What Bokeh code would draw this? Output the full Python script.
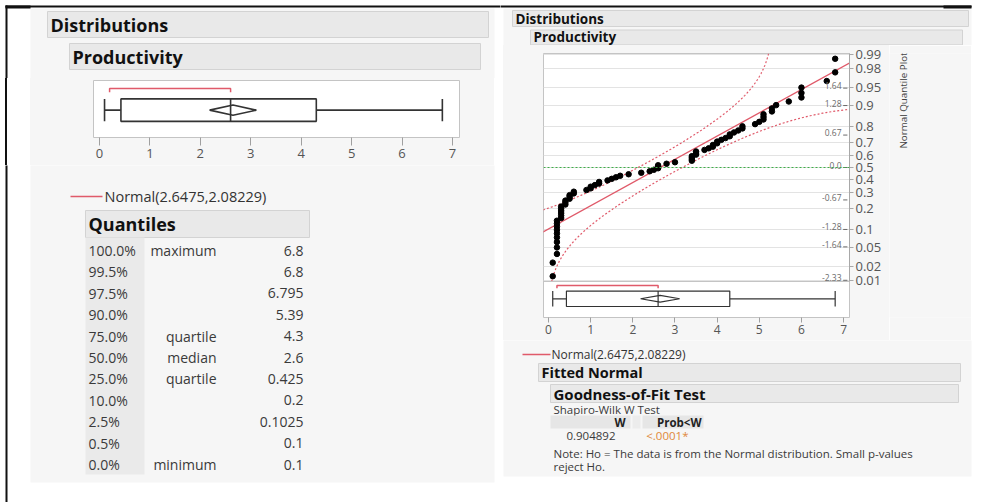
import math
from statistics import NormalDist
import numpy as np
from bokeh.plotting import figure
from bokeh.layouts import row, column
from bokeh.models import Range1d, FixedTicker, Span
from bokeh.core.properties import value
from bokeh.embed import file_html
from bokeh.resources import INLINE

# ---------------- data ----------------
productivity = [0.1, 0.1, 0.2, 0.2, 0.2, 0.2, 0.2, 0.2, 0.2, 0.2, 0.2,
                0.3, 0.3, 0.3, 0.3, 0.3, 0.3, 0.4, 0.4, 0.4, 0.5, 0.5, 0.5, 0.6, 0.6,
                0.9, 1.0, 1.0, 1.1, 1.2, 1.2, 1.4, 1.5, 1.6, 1.7, 1.9, 2.2, 2.4, 2.5,
                2.6, 2.6, 2.6, 2.8, 3.0,
                3.4, 3.4, 3.4, 3.4, 3.5, 3.5, 3.5, 3.7, 3.8, 3.9, 3.9, 4.0, 4.0, 4.1,
                4.2, 4.3, 4.3, 4.4, 4.5, 4.6, 4.6, 4.9, 5.0,
                5.1, 5.1, 5.1, 5.3, 5.3, 5.4, 5.7, 6.0, 6.0, 6.0, 6.6, 6.8, 6.8]
fit_mean = 2.6475
fit_sd = 2.08229
t_crit = 1.9905           # t(0.975, n-1) for the mean diamond
lilliefors_c = 0.886      # 95% Lilliefors constant, band = c / sqrt(n)

quant_pct = ["100.0%", "99.5%", "97.5%", "90.0%", "75.0%", "50.0%",
             "25.0%", "10.0%", "2.5%", "0.5%", "0.0%"]
quant_name = ["maximum", "", "", "", "quartile", "median", "quartile", "", "", "", "minimum"]
quant_val = [6.8, 6.8, 6.795, 5.39, 4.3, 2.6, 0.425, 0.2, 0.1025, 0.1, 0.1]

x_ticks = [0, 1, 2, 3, 4, 5, 6, 7]
prob_ticks = [0.01, 0.02, 0.05, 0.1, 0.2, 0.3, 0.4, 0.5, 0.6, 0.7, 0.8, 0.9, 0.95, 0.98, 0.99]
prob_labels = ["0.01", "0.02", "0.05", "0.1", "0.2", "0.3", "0.4", "0.5",
               "0.6", "0.7", "0.8", "0.9", "0.95", "0.98", "0.99"]
z_marks = [1.64, 1.28, 0.67, 0.0, -0.67, -1.28, -1.64, -2.33]
z_labels = ["1.64", "1.28", "0.67", "0.0", "-0.67", "-1.28", "-1.64", "-2.33"]

sw_W = "0.904892"
sw_p = "<.0001*"

# ---------------- style ----------------
FONT = "Open Sans"
PANEL = "#f6f6f6"
HEAD_FILL = "#e9e9e9"
HEAD_LINE = "#d3d3d3"
BLACK = "#111111"
TXT = "#3a3a3a"
RED = "#e05a6a"
FRAME = "#c4c4c4"
XLO, XHI = -0.119, 7.14
ZR = 2.355                      # half height of the quantile section (z units)
Q_PX, BOX_PX = 228, 36          # pixel heights of quantile / box sections
ZB = -ZR - BOX_PX * (2 * ZR) / Q_PX

nd = NormalDist()
n = len(productivity)
xs_sorted = sorted(productivity)
zs_pts = [nd.inv_cdf((i + 1) / (n + 1)) for i in range(n)]
D = lilliefors_c / math.sqrt(n)
ci = t_crit * fit_sd / math.sqrt(n)
half = int(math.ceil(n / 2))
widths = [xs_sorted[i + half - 1] - xs_sorted[i] for i in range(n - half + 1)]
i0 = int(np.argmin(widths))
short_lo, short_hi = xs_sorted[i0], xs_sorted[i0 + half - 1]


def tile(x0, y0, w, h, bg="white", top_border=0, bottom_border=0):
    p = figure(width=w, height=h, x_range=Range1d(x0, x0 + w),
               y_range=Range1d(y0 + h - bottom_border, y0 + top_border),
               x_axis_type=None, y_axis_type=None, toolbar_location=None, title=None,
               output_backend="svg", min_border=0, min_border_top=top_border,
               min_border_bottom=bottom_border)
    p.outline_line_color = None
    p.background_fill_color = bg
    p.border_fill_color = bg
    return p


def solid(w, h, color, top=0, bottom=0):
    p = figure(width=w, height=h, x_range=Range1d(0, 1), y_range=Range1d(0, 1),
               x_axis_type=None, y_axis_type=None, toolbar_location=None, title=None,
               output_backend="svg", min_border=0, min_border_top=top, min_border_bottom=bottom,
               styles={"background-color": color})
    p.outline_line_color = None
    p.background_fill_color = color
    p.border_fill_color = color
    return p


def rect(p, l, r, t, b, fill, line=None, lw=1):
    p.quad(left=[l], right=[r], top=[t], bottom=[b], fill_color=fill,
           line_color=line, line_width=lw)


def txt(p, x, y, s, size, bold=False, color=TXT, align="left", angle=0.0):
    p.text(x=[x], y=[y], text=[s], text_font=value(FONT), text_font_size=f"{size}px",
           text_font_style="bold" if bold else "normal", text_color=color,
           text_align=align, text_baseline="middle", angle=angle)


def header(p, l, r, t, b, s, size):
    rect(p, l, r, t, b, HEAD_FILL, HEAD_LINE)
    txt(p, l + 3, (t + b) / 2, s, size, bold=True, color="#111111")


def draw_box(p, yc, hb, hd, yb, tk, lw, yname="default"):
    q_max, q3, med, q1, q_min = quant_val[0], quant_val[4], quant_val[5], quant_val[6], quant_val[10]
    col = "#333333"
    kw = dict(y_range_name=yname)
    p.segment(x0=[q_min, q3], x1=[q1, q_max], y0=[yc, yc], y1=[yc, yc], line_color=col,
              line_width=lw, **kw)
    p.segment(x0=[q_min, q_max], x1=[q_min, q_max], y0=[yc - hb] * 2, y1=[yc + hb] * 2,
              line_color=col, line_width=lw, **kw)
    p.quad(left=[q1], right=[q3], bottom=[yc - hb], top=[yc + hb], fill_color="white",
           line_color=col, line_width=lw, **kw)
    p.segment(x0=[med], x1=[med], y0=[yc - hb], y1=[yc + hb], line_color=col, line_width=lw, **kw)
    p.patch(x=[fit_mean - ci, fit_mean, fit_mean + ci, fit_mean, fit_mean - ci],
            y=[yc, yc + hd, yc, yc - hd, yc], fill_color=None, line_color=col, line_width=lw, **kw)
    p.line(x=[short_lo, short_lo, short_hi, short_hi], y=[yb - tk, yb, yb, yb - tk],
           line_color=RED, line_width=1.5, **kw)


def style_xaxis(ax, out, size, standoff):
    ax.ticker = FixedTicker(ticks=x_ticks)
    ax.axis_line_color = None
    ax.major_tick_out = out
    ax.major_tick_in = 0
    ax.minor_tick_line_color = None
    ax.major_tick_line_color = "#a0a0a0"
    ax.major_label_text_font = FONT
    ax.major_label_text_font_size = f"{size}px"
    ax.major_label_text_color = "#555555"
    ax.major_label_standoff = standoff


normal_label = f"Normal({fit_mean},{fit_sd})"

# ================= LEFT COLUMN =================
A = tile(0, 0, 500, 78)
rect(A, 30, 494, 8, 80, PANEL)
rect(A, 5, 7, 5, 80, BLACK)
rect(A, 5, 500, 5, 7, BLACK)
rect(A, 5, 30, 5, 8, BLACK)
header(A, 47, 488, 11, 37, "Distributions", 18)
header(A, 69, 480, 43, 69, "Productivity", 18)

BT, BB = 2, 28
B_plot = figure(width=401, height=87, x_range=Range1d(XLO, XHI), y_range=Range1d(0, 1),
                y_axis_type=None, toolbar_location=None, title=None, output_backend="svg",
                min_border_left=0, min_border_right=35, min_border_top=BT, min_border_bottom=BB,
                styles={"background-color": PANEL})
B_plot.background_fill_color = "white"
B_plot.border_fill_color = PANEL
B_plot.outline_line_color = FRAME
B_plot.xgrid.visible = False
style_xaxis(B_plot.xaxis[0], 8, 13, 3)
draw_box(B_plot, 0.48, 0.197, 0.09, 0.86, 0.065, 1.6)

B_row = row(solid(5, 87, "white", BT, BB), solid(2, 87, BLACK, BT, BB),
            solid(23, 87, "white", BT, BB), solid(63, 87, PANEL, BT, BB), B_plot,
            solid(6, 87, "white", BT, BB))

C = tile(0, 165, 500, 337)
rect(C, 30, 494, 163, 482, PANEL)
rect(C, 5, 7, 163, 504, BLACK)
C.line(x=[70, 102], y=[196, 196], line_color=RED, line_width=1.5)
txt(C, 104, 196, normal_label, 14.5, color="#333333")
header(C, 85, 309, 210, 237, "Quantiles", 18)
rect(C, 85, 144, 237, 474, "#eaeaea")
row_y = [250 + 21.4 * i for i in range(len(quant_pct))]
C.text(x=[88] * len(row_y), y=row_y, text=quant_pct, text_font=value(FONT),
       text_font_size="14px", text_color=TXT, text_baseline="middle", text_align="left")
C.text(x=[216] * len(row_y), y=row_y, text=quant_name, text_font=value(FONT),
       text_font_size="14px", text_color=TXT, text_baseline="middle", text_align="right")
C.text(x=[303] * len(row_y), y=row_y, text=[f"{v:g}" for v in quant_val], text_font=value(FONT),
       text_font_size="14px", text_color=TXT, text_baseline="middle", text_align="right")

left = column(A, B_row, C)

# ================= RIGHT COLUMN =================
ET, EB = 8, 23
D_H = 53 - ET
Dt = tile(500, 0, 482, D_H)
rect(Dt, 503, 971, 8, D_H + 2, PANEL)
rect(Dt, 498, 971, 5, 7, BLACK)
rect(Dt, 943, 971, 5, 8, BLACK)
header(Dt, 512, 968, 10, 26, "Distributions", 13.5)
header(Dt, 530, 962, 29.5, D_H - 0.6, "Productivity", 13.5)

EH = ET + Q_PX + BOX_PX + EB
EF = figure(width=346, height=EH, x_range=Range1d(XLO, XHI),
            y_range=Range1d(ZB, ZR), y_axis_location="right", toolbar_location=None,
            title=None, output_backend="svg", min_border_left=0, min_border_right=40,
            min_border_top=ET, min_border_bottom=EB, styles={"background-color": PANEL})
EF.extra_y_ranges = {"box": Range1d(0, (Q_PX + BOX_PX) / BOX_PX)}
EF.background_fill_color = "white"
EF.border_fill_color = PANEL
EF.outline_line_color = FRAME
EF.xgrid.visible = False
style_xaxis(EF.xaxis[0], 5, 12, 2)
z_ticks = [nd.inv_cdf(pv) for pv in prob_ticks]
ticker = FixedTicker(ticks=z_ticks)
yax = EF.yaxis[0]
yax.ticker = ticker
yax.bounds = (-ZR, ZR)
yax.major_label_overrides = {zt: lab for zt, lab in zip(z_ticks, prob_labels)}
yax.axis_line_color = "#a8a8a8"
yax.major_tick_out = 4
yax.major_tick_in = 0
yax.minor_tick_line_color = None
yax.major_tick_line_color = "#a8a8a8"
yax.major_label_text_font = FONT
yax.major_label_text_font_size = "13px"
yax.major_label_text_color = "#555555"
yax.major_label_standoff = 2
EF.ygrid.ticker = ticker
EF.ygrid.grid_line_color = "#e3e3e3"
EF.add_layout(Span(location=0, dimension="width", line_color="#3fae49",
                   line_dash="2 2", line_width=1))
EF.add_layout(Span(location=-ZR, dimension="width", line_color=FRAME, line_width=1))
zgrid = np.linspace(-ZR, ZR * 1.02, 800)
up_x, lo_x = [], []
for z in zgrid:
    c = nd.cdf(z)
    up_x.append(fit_mean + fit_sd * nd.inv_cdf(c - D) if c - D > 1e-9 else np.nan)
    lo_x.append(fit_mean + fit_sd * nd.inv_cdf(c + D) if c + D < 1 - 1e-9 else np.nan)
EF.line(x=up_x, y=zgrid, line_color=RED, line_dash="2 2", line_width=1.2)
EF.line(x=lo_x, y=zgrid, line_color=RED, line_dash="2 2", line_width=1.2)
EF.line(x=[fit_mean - fit_sd * ZR, fit_mean + fit_sd * ZR * 1.1], y=[-ZR, ZR * 1.1],
        line_color=RED, line_width=1.3)
EF.scatter(x=xs_sorted, y=zs_pts, size=5.5, color="black")
EF.text(x=[XHI] * len(z_marks), y=z_marks, text=z_labels, x_offset=-8, y_offset=1,
        text_font=value(FONT), text_font_size="8.5px", text_color="#6a6a6a",
        text_align="right", text_baseline="bottom")
EF.segment(x0=[XHI - 0.05] * len(z_marks), x1=[XHI - 0.15] * len(z_marks),
           y0=z_marks, y1=z_marks, line_color="#6a6a6a", line_width=1)
draw_box(EF, 0.52, 0.215, 0.095, 0.89, 0.08, 1.2, yname="box")

Lab = tile(889, D_H, 82, EH, bg=PANEL, top_border=ET, bottom_border=EB)
txt(Lab, 902.5, 100, "Normal Quantile Plot", 9.8, color="#444444", align="center",
    angle=math.pi / 2)

EF_row = row(solid(3, EH, "white", ET, EB), solid(40, EH, PANEL, ET, EB),
             EF, Lab, solid(11, EH, "white", ET, EB))

G = tile(500, 340, 482, 162)
rect(G, 503, 971, 338, 476, PANEL)
G.line(x=[522, 550], y=[354, 354], line_color=RED, line_width=1.3)
txt(G, 551, 354, normal_label, 12, color="#333333")
header(G, 538, 960, 363, 381, "Fitted Normal", 14.5)
header(G, 550, 958, 384, 402, "Goodness-of-Fit Test", 15)
txt(G, 553, 409, "Shapiro-Wilk W Test", 11.5)
rect(G, 550, 630, 415, 428, "#e6e6e6")
rect(G, 632, 640, 415, 428, "#ececec")
rect(G, 642, 703, 415, 428, "#e6e6e6")
txt(G, 625, 421.5, "W", 11.5, bold=True, color="#222222", align="right")
txt(G, 701, 421.5, "Prob<W", 11.5, bold=True, color="#222222", align="right")
txt(G, 615, 435, sw_W, 11.5, align="right")
txt(G, 688, 435, sw_p, 11.5, color="#e0883a", align="right")
txt(G, 553, 453, "Note: Ho = The data is from the Normal distribution. Small p-values", 11.5)
txt(G, 553, 466, "reject Ho.", 11.5)

right = column(Dt, EF_row, G)

root = row(left, right)
open("out.html", "w").write(file_html(root, INLINE))
